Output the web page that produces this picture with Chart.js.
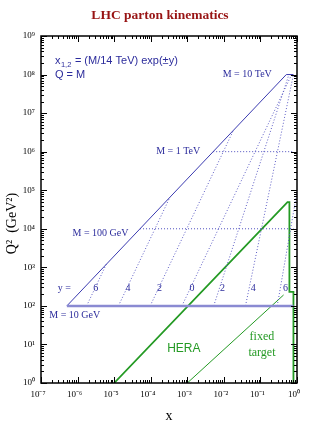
<!DOCTYPE html>
<html>
<head>
<meta charset="utf-8">
<script src="https://cdn.jsdelivr.net/npm/chart.js@4.4.1/dist/chart.umd.min.js"></script>
<style>
  html, body { margin: 0; padding: 0; background: #fff; }
</style>
</head>
<body>
<canvas id="grafico" width="332" height="423"></canvas>
<script>
// limite cinematico x = Q^2/s  (s = (14 TeV)^2), cortado en M = 10 TeV
const limiteX  = [5.1e-7, 0.51, 0.8];
const limiteQ2 = [1e2, 1e8, 1e8];

// lineas de masa constante (Q = M)
const m10GeVX  = [5.1e-7, 0.8];
const m10GeVQ2 = [1e2, 1e2];
const m100GeVX  = [5.1e-5, 0.8];
const m100GeVQ2 = [1e4, 1e4];
const m1TeVX  = [5.1e-3, 0.8];
const m1TeVQ2 = [1e6, 1e6];

// lineas de rapidez constante
const y6X  = [1.77e-6, 6.1e-6];   const y6Q2  = [1e2, 1204];
const y4X  = [1.31e-5, 3.35e-4];  const y4Q2  = [1e2, 6.57e4];
const y2X  = [9.67e-5, 0.0183];   const y2Q2  = [1e2, 3.59e6];
const y0X  = [7.14e-4, 0.714];    const y0Q2  = [1e2, 1e8];
const ym2X = [5.28e-3, 0.6];      const ym2Q2 = [1e2, 1e8];
const ym4X = [0.039, 0.8];        const ym4Q2 = [1e2, 1e8];
const ym6X = [0.288, 1];          const ym6Q2 = [1e2, 9e4];

// HERA y blanco fijo
const heraX  = [1e-5, 0.55, 0.62, 0.62, 0.8, 0.8];
const heraQ2 = [1, 4.9e4, 4.9e4, 230, 230, 1];
const fijoX  = [1e-3, 0.43];
const fijoQ2 = [1, 192];

const etiquetasY = ['6', '4', '2', '0', '2', '4', '6'];
const posEtiquetasY = [3.16e-6, 2.38e-5, 1.73e-4, 1.34e-3, 9.14e-3, 0.0637, 0.485];

const AZUL = '#3a3ab0';
const AZUL_TXT = '#2c2c9c';
const VERDE = '#249a24';

function pares(xs, qs) {
    return xs.map((x, i) => ({ x: x, y: qs[i] }));
}

function linea(nombre, xs, qs, color, ancho, guiones) {
    return {
        label: nombre,
        data: pares(xs, qs),
        borderColor: color,
        borderWidth: ancho,
        borderDash: guiones || [],
        showLine: true,
        pointRadius: 0,
        fill: false
    };
}

const SUP = { '-': '⁻', '0': '⁰', '1': '¹', '2': '²', '3': '³', '4': '⁴', '5': '⁵', '6': '⁶', '7': '⁷', '8': '⁸', '9': '⁹' };
function potencia(v) {
    const e = Math.round(Math.log10(v));
    if (Math.abs(Math.log10(v) - e) > 1e-6) return '';
    return '10' + String(e).split('').map(c => SUP[c]).join('');
}

function ticksLog(eMin, eMax) {
    const t = [];
    for (let e = eMin; e <= eMax; e++) {
        for (let m = 1; m <= 9; m++) {
            if (e === eMax && m > 1) break;
            t.push({ value: m * Math.pow(10, e) });
        }
    }
    return t;
}

const dotted = [1, 2];

// marco, marcas hacia adentro y textos
const decoracion = {
    id: 'decoracion',
    afterDatasetsDraw(chart) {
        const { ctx, chartArea: a, scales } = chart;
        const sx = scales.x, sy = scales.y;
        ctx.save();
        ctx.strokeStyle = '#000';
        ctx.lineWidth = 1;
        sx.ticks.forEach(t => {
            const p = Math.round(sx.getPixelForValue(t.value)) + 0.5;
            const l = potencia(t.value) ? 6 : 3;
            ctx.beginPath();
            ctx.moveTo(p, a.bottom); ctx.lineTo(p, a.bottom - l);
            ctx.moveTo(p, a.top); ctx.lineTo(p, a.top + l);
            ctx.stroke();
        });
        sy.ticks.forEach(t => {
            const p = Math.round(sy.getPixelForValue(t.value)) + 0.5;
            const l = potencia(t.value) ? 6 : 3;
            ctx.beginPath();
            ctx.moveTo(a.left, p); ctx.lineTo(a.left + l, p);
            ctx.moveTo(a.right, p); ctx.lineTo(a.right - l, p);
            ctx.stroke();
        });
        ctx.lineWidth = 1.5;
        ctx.strokeRect(a.left, a.top, a.right - a.left, a.bottom - a.top);

        const X = v => sx.getPixelForValue(v);
        const Y = v => sy.getPixelForValue(v);
        function texto(s, x, q, font, color, align) {
            ctx.font = font;
            ctx.fillStyle = color;
            ctx.textAlign = align || 'left';
            ctx.textBaseline = 'middle';
            ctx.fillText(s, X(x), Y(q));
        }

        // titulo
        ctx.font = 'bold 13.5px "Liberation Serif"';
        ctx.fillStyle = '#981414';
        ctx.textAlign = 'center';
        ctx.textBaseline = 'middle';
        ctx.fillText('LHC parton kinematics', 160, 16);

        // formula con subindice
        const sans = '"Liberation Sans", Arial, sans-serif';
        let px = X(2.4e-7), py = Y(2.3e8);
        ctx.font = '11px ' + sans;
        ctx.fillStyle = AZUL_TXT;
        ctx.textAlign = 'left';
        ctx.textBaseline = 'middle';
        ctx.fillText('x', px, py);
        px += ctx.measureText('x').width;
        ctx.font = '7.5px ' + sans;
        ctx.fillText('1,2', px + 0.5, py + 4);
        px += ctx.measureText('1,2').width + 1;
        ctx.font = '11px ' + sans;
        ctx.fillText(' = (M/14 TeV) exp(±y)', px, py);
        texto('Q = M', 2.4e-7, 1.0e8, '11px ' + sans, AZUL_TXT);

        const serif = '"Liberation Serif", "Times New Roman", serif';
        texto('M = 10 TeV', 0.205, 1e8, '10px ' + serif, AZUL_TXT, 'right');
        texto('M = 1 TeV', 2.26e-3, 1e6, '10px ' + serif, AZUL_TXT, 'right');
        texto('M = 100 GeV', 7.3e-7, 7.5e3, '10px ' + serif, AZUL_TXT);
        texto('M = 10 GeV', 1.68e-7, 56.9, '10px ' + serif, AZUL_TXT);
        texto('y =', 2.85e-7, 280, '10px ' + serif, AZUL_TXT);
        etiquetasY.forEach((s, i) => texto(s, posEtiquetasY[i], 286, '10px ' + serif, AZUL_TXT, 'center'));

        texto('HERA', 8.03e-4, 7.94, '12px ' + sans, VERDE, 'center');
        texto('fixed', 0.11, 15.9, '12px ' + serif, VERDE, 'center');
        texto('target', 0.11, 6.0, '12px ' + serif, VERDE, 'center');
        ctx.restore();
    }
};

new Chart(document.getElementById('grafico'), {
    type: 'scatter',
    data: {
        datasets: [
            linea('M = 10 GeV', m10GeVX, m10GeVQ2, '#8a8ad2', 2.5),
            linea('limite', limiteX, limiteQ2, AZUL, 1),
            linea('M = 100 GeV', m100GeVX, m100GeVQ2, '#5050c0', 1, dotted),
            linea('M = 1 TeV', m1TeVX, m1TeVQ2, '#5050c0', 1, dotted),
            linea('y = 6', y6X, y6Q2, '#5a5ac4', 1, dotted),
            linea('y = 4', y4X, y4Q2, '#5a5ac4', 1, dotted),
            linea('y = 2', y2X, y2Q2, '#5a5ac4', 1, dotted),
            linea('y = 0', y0X, y0Q2, '#5a5ac4', 1, dotted),
            linea('y = -2', ym2X, ym2Q2, '#5a5ac4', 1, dotted),
            linea('y = -4', ym4X, ym4Q2, '#5a5ac4', 1, dotted),
            linea('y = -6', ym6X, ym6Q2, '#5a5ac4', 1, dotted),
            linea('HERA', heraX, heraQ2, VERDE, 1.8),
            linea('fixed target', fijoX, fijoQ2, VERDE, 1)
        ]
    },
    options: {
        responsive: false,
        animation: false,
        devicePixelRatio: 1,
        layout: { padding: { top: 36, right: 35, left: 0, bottom: 0 } },
        plugins: {
            legend: { display: false },
            tooltip: { enabled: false },
            title: { display: false }
        },
        scales: {
            x: {
                type: 'logarithmic',
                min: 1e-7,
                max: 1,
                grid: { display: false, drawTicks: false },
                border: { display: false },
                afterBuildTicks: s => { s.ticks = ticksLog(-7, 0); },
                afterFit: s => { s.height = 40; },
                ticks: {
                    autoSkip: false,
                    maxRotation: 0,
                    padding: 6,
                    labelOffset: -3,
                    color: '#000',
                    font: { family: '"Liberation Serif", serif', size: 9 },
                    callback: v => potencia(v)
                },
                title: {
                    display: true,
                    text: 'x',
                    color: '#000',
                    font: { family: '"Liberation Serif", serif', size: 14, lineHeight: 1 },
                    padding: { top: 0, bottom: 0 }
                }
            },
            y: {
                type: 'logarithmic',
                min: 1,
                max: 1e9,
                grid: { display: false, drawTicks: false },
                border: { display: false },
                afterBuildTicks: s => { s.ticks = ticksLog(0, 9); },
                afterFit: s => { s.width = 41; },
                ticks: {
                    autoSkip: false,
                    padding: 6,
                    color: '#000',
                    font: { family: '"Liberation Serif", serif', size: 9 },
                    callback: v => potencia(v)
                },
                title: {
                    display: true,
                    text: 'Q²  (GeV²)        ',
                    color: '#000',
                    font: { family: '"Liberation Serif", serif', size: 14, lineHeight: 1 },
                    padding: { top: 5, bottom: 0 }
                }
            }
        }
    },
    plugins: [decoracion]
});
</script>
</body>
</html>
